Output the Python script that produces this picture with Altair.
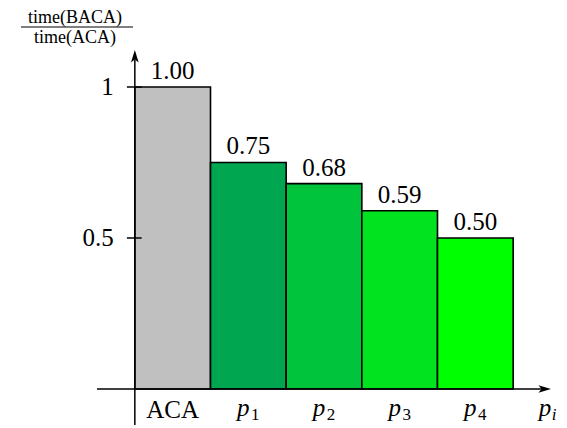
import altair as alt
import pandas as pd

# ---- data ----
categories = ["ACA", "p1", "p2", "p3", "p4"]
values = [1.00, 0.75, 0.68, 0.59, 0.50]
value_labels = ["1.00", "0.75", "0.68", "0.59", "0.50"]
colors = ["#c0c0c0", "#00a650", "#00c43c", "#00e31e", "#00ff00"]
y_ticks = [0.5, 1.0]
y_tick_labels = ["0.5", "1"]

FONT = "Liberation Serif"

idx = list(range(len(categories)))
bars = pd.DataFrame({
    "cat": categories,
    "start": idx,
    "end": [i + 1 for i in idx],
    "mid": [i + 0.5 for i in idx],
    "value": values,
    "label": value_labels,
    "main": [c if not c.startswith("p") else "p" for c in categories],
    "sub": ["" if not c.startswith("p") else c[1:] for c in categories],
    "italic": [c.startswith("p") for c in categories],
})

XMIN, XMAX = -0.5, 5.5
YMIN, YMAX = -0.1192, 1.1225
xs = alt.Scale(domain=[XMIN, XMAX], nice=False, zero=False)
ys = alt.Scale(domain=[YMIN, YMAX], nice=False, zero=False)

base = alt.Chart(bars)

rects = base.mark_rect(stroke="black", strokeWidth=1.6).encode(
    x=alt.X("start:Q", scale=xs, axis=None),
    x2="end:Q",
    y=alt.Y("value:Q", scale=ys, axis=None),
    y2=alt.datum(0),
    fill=alt.Color("cat:N", scale=alt.Scale(domain=categories, range=colors), legend=None),
)

val_text = base.mark_text(font=FONT, fontSize=25, baseline="bottom", dy=-3).encode(
    x=alt.X("mid:Q", scale=xs), y=alt.Y("value:Q", scale=ys), text="label:N"
)

aca_lbl = base.transform_filter("!datum.italic").mark_text(
    font=FONT, fontSize=25, baseline="middle", dy=21
).encode(x=alt.X("mid:Q", scale=xs), y=alt.datum(0), text="main:N")

p_lbl = base.transform_filter("datum.italic").mark_text(
    font=FONT, fontSize=25, fontStyle="italic", baseline="middle", dy=19, dx=-5
).encode(x=alt.X("mid:Q", scale=xs), y=alt.datum(0), text="main:N")

p_sub = base.transform_filter("datum.italic").mark_text(
    font=FONT, fontSize=17, baseline="middle", dy=26, dx=7
).encode(x=alt.X("mid:Q", scale=xs), y=alt.datum(0), text="sub:N")

axes_df = pd.DataFrame({"x": [0.0, XMIN], "x2": [0.0, 5.42], "y": [YMIN, 0.0], "y2": [1.09, 0.0]})
axis_lines = alt.Chart(axes_df).mark_rule(color="black", strokeWidth=1.5).encode(
    x=alt.X("x:Q", scale=xs), x2="x2:Q", y=alt.Y("y:Q", scale=ys), y2="y2:Q"
)

ticks_df = pd.DataFrame({"y": y_ticks, "label": y_tick_labels})
tick_rules = alt.Chart(ticks_df).mark_rule(color="black", strokeWidth=1.5).encode(
    x=alt.datum(-0.105, scale=xs), x2=alt.datum(0.09), y=alt.Y("y:Q", scale=ys)
)
tick_text = alt.Chart(ticks_df).mark_text(font=FONT, fontSize=25, align="right", baseline="middle", dx=-21).encode(
    x=alt.datum(0, scale=xs), y=alt.Y("y:Q", scale=ys), text="label:N"
)

up_arrow = alt.Chart(pd.DataFrame({"x": [0.0], "y": [YMAX]})).mark_point(
    shape="M0,0L-0.55,1.8L0,1.35L0.55,1.8Z", size=196, filled=True, color="black", opacity=1
).encode(x=alt.X("x:Q", scale=xs), y=alt.Y("y:Q", scale=ys))
right_arrow = alt.Chart(pd.DataFrame({"x": [XMAX], "y": [0.0]})).mark_point(
    shape="M0,0L-1.8,-0.55L-1.35,0L-1.8,0.55Z", size=196, filled=True, color="black", opacity=1
).encode(x=alt.X("x:Q", scale=xs), y=alt.Y("y:Q", scale=ys))

pi_main = alt.Chart(pd.DataFrame({"x": [XMAX], "t": ["p"]})).mark_text(
    font=FONT, fontSize=25, fontStyle="italic", baseline="middle", dy=19, dx=-6
).encode(x=alt.X("x:Q", scale=xs), y=alt.datum(0, scale=ys), text="t:N")
pi_sub = alt.Chart(pd.DataFrame({"x": [XMAX], "t": ["i"]})).mark_text(
    font=FONT, fontSize=17, fontStyle="italic", baseline="middle", dy=26, dx=3
).encode(x=alt.X("x:Q", scale=xs), y=alt.datum(0, scale=ys), text="t:N")

frac_df = pd.DataFrame({"t": ["time(BACA)", "time(ACA)"], "yy": [-27, -7]})
frac_text = alt.Chart(frac_df).mark_text(font=FONT, fontSize=18, align="center", baseline="alphabetic").encode(
    x=alt.value(-22), y=alt.Y("yy:Q", scale=None), text="t:N"
)
frac_line = alt.Chart(pd.DataFrame({"a": [0]})).mark_rule(color="black", strokeWidth=1.2).encode(
    x=alt.value(-76), x2=alt.value(36), y=alt.value(-23)
)

chart = alt.layer(
    rects, val_text, axis_lines, tick_rules, tick_text, up_arrow, right_arrow,
    aca_lbl, p_lbl, p_sub, pi_main, pi_sub, frac_text, frac_line,
).properties(
    width=454, height=375,
    autosize=alt.AutoSizeParams(type="none"),
    padding={"left": 89, "top": 42, "right": 8, "bottom": 0},
).configure_view(stroke=None)

chart.save("out.html", embed_options={"renderer": "svg", "actions": False})
